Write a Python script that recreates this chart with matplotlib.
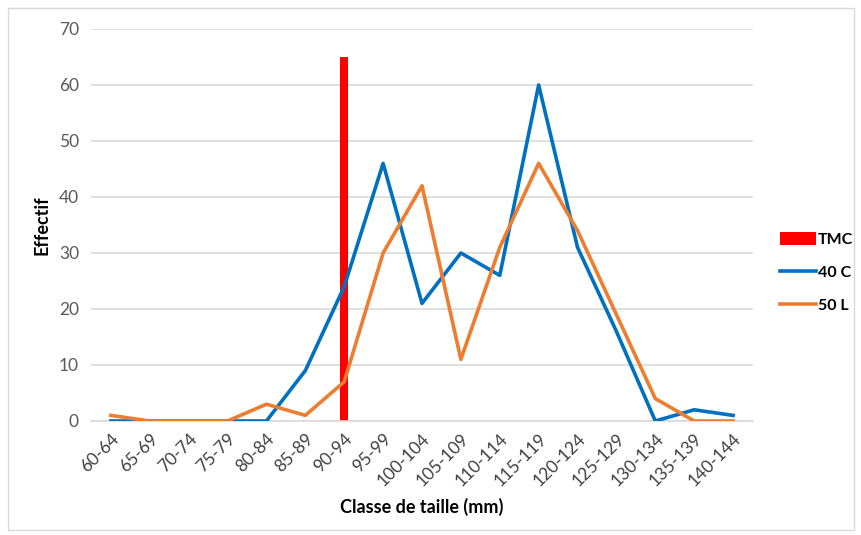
import matplotlib
matplotlib.use("Agg")
import matplotlib.pyplot as plt
from matplotlib.patches import Patch, Rectangle
from matplotlib.lines import Line2D
import numpy as np

plt.rcParams["font.family"] = ["Lato", "DejaVu Sans"]

# size classes (mm)
classes = ["60-64", "65-69", "70-74", "75-79", "80-84", "85-89", "90-94",
           "95-99", "100-104", "105-109", "110-114", "115-119", "120-124",
           "125-129", "130-134", "135-139", "140-144"]

effectif_40c = [0, 0, 0, 0, 0, 9, 24, 46, 21, 30, 26, 60, 31, 16, 0, 2, 1]
effectif_50l = [1, 0, 0, 0, 3, 1, 7, 30, 42, 11, 31, 46, 34, 19, 4, 0, 0]

# TMC marker: class and height of the bar
tmc_class = "90-94"
tmc_value = 65

BLUE = "#0070C0"
ORANGE = "#ED7D31"
RED = "#FF0000"
GRID = "#D9D9D9"
TICK = "#595959"
LW = 2.6

fig = plt.figure(figsize=(8.62, 5.35), dpi=100)
ax = fig.add_axes([0.1061, 0.2131, 0.7669, 0.7327])

x = np.arange(len(classes))
ax.bar(classes.index(tmc_class), tmc_value, width=0.22, color=RED, zorder=2)
ax.plot(x, effectif_40c, color=BLUE, lw=LW, zorder=3)
ax.plot(x, effectif_50l, color=ORANGE, lw=LW, zorder=4)

ax.set_xlim(-0.5, len(classes) - 0.5)
ax.set_ylim(0, 70)
ax.set_yticks(range(0, 71, 10))
ax.set_xticks(x)
ax.set_xticklabels(classes, rotation=45, ha="right", rotation_mode="anchor")
ax.tick_params(axis="both", length=0, labelsize=12.5, labelcolor=TICK)
ax.tick_params(axis="y", pad=9)
ax.tick_params(axis="x", pad=7, labelcolor="#404040")

ax.grid(axis="y", color=GRID, lw=1.2, zorder=0)
ax.set_axisbelow(True)
for side in ["top", "right", "left"]:
    ax.spines[side].set_visible(False)
ax.spines["bottom"].set_color(GRID)
ax.spines["bottom"].set_linewidth(1.2)

ax.set_xlabel("Classe de taille (mm)", fontsize=13, fontweight="bold", labelpad=6)
ax.set_ylabel("Effectif", fontsize=13, fontweight="bold", labelpad=6)

handles = [
    Patch(facecolor=RED, edgecolor="none"),
    Line2D([0], [0], color=BLUE, lw=LW),
    Line2D([0], [0], color=ORANGE, lw=LW),
]
leg = fig.legend(handles, ["TMC", "40 C", "50 L"], loc="center left",
                 bbox_to_anchor=(0.892, 0.49), frameon=False,
                 prop={"weight": "bold", "size": 11.5},
                 handlelength=2.25, handleheight=0.8, handletextpad=0.1,
                 labelspacing=1.15, borderpad=0.2)

# thin frame around the whole chart
fig.patches.append(Rectangle((0.009, 0.009), 0.982, 0.976, transform=fig.transFigure,
                             fill=False, edgecolor=GRID, lw=1.0))

fig.savefig("out.png", dpi=100)
